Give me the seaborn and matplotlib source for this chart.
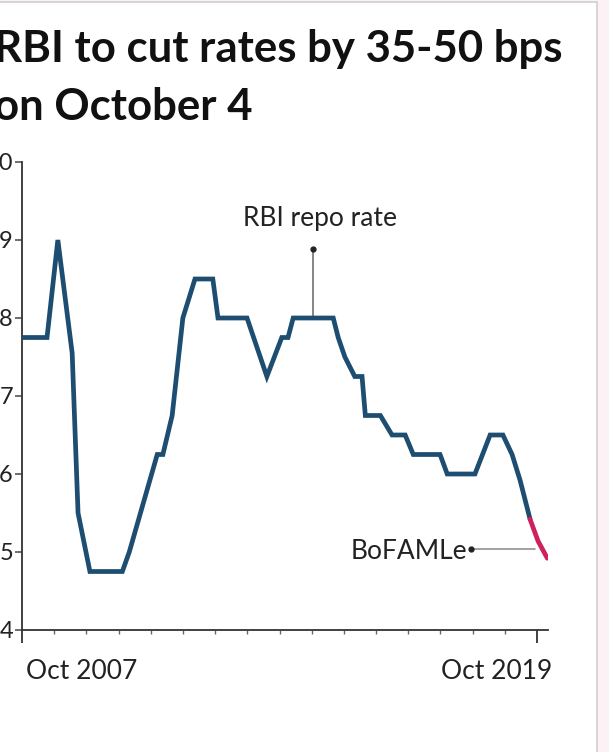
import matplotlib
matplotlib.use("Agg")
import matplotlib.pyplot as plt
import matplotlib.dates as mdates
import matplotlib.transforms as mtransforms
from matplotlib.patches import Rectangle
import pandas as pd
import seaborn as sns

# RBI policy repo rate (%), as plotted
repo_dates = [
    "2007-10-01", "2008-05-01", "2008-08-01", "2008-12-01", "2009-01-20",
    "2009-05-01", "2010-02-01", "2010-04-01", "2010-11-25", "2011-01-12",
    "2011-04-01", "2011-07-01", "2011-10-12", "2012-03-12", "2012-04-25",
    "2012-12-28", "2013-06-15", "2013-10-20", "2013-12-12", "2014-01-25",
    "2015-01-01", "2015-02-12", "2015-04-10", "2015-07-03", "2015-09-03",
    "2015-10-01", "2016-02-06", "2016-05-15", "2016-09-04", "2016-11-12",
    "2017-06-28", "2017-08-28", "2018-04-21", "2018-08-28", "2018-12-15",
    "2019-03-03", "2019-05-10", "2019-08-03",
]
repo_rate = [
    7.75, 7.75, 9.00, 7.55, 5.50,
    4.75, 4.75, 5.00, 6.25, 6.25,
    6.75, 8.00, 8.50, 8.50, 8.00,
    8.00, 7.25, 7.75, 7.75, 8.00,
    8.00, 7.75, 7.50, 7.25, 7.25,
    6.75, 6.75, 6.50, 6.50, 6.25,
    6.25, 6.00, 6.00, 6.50, 6.50,
    6.25, 5.92, 5.42,
]

# BofAML expected path
bofaml_dates = ["2019-08-03", "2019-10-10", "2019-12-28"]
bofaml_rate = [5.42, 5.14, 4.92]

title_lines = ["RBI to cut rates by 35-50 bps", "on October 4"]
xtick_labels = ["Oct 2007", "Oct 2019"]
ytick_values = [4, 5, 6, 7, 8, 9, 10]

repo = pd.DataFrame({"date": pd.to_datetime(repo_dates), "rate": repo_rate})
bofaml = pd.DataFrame({"date": pd.to_datetime(bofaml_dates), "rate": bofaml_rate})

sns.set_theme(style="ticks")
plt.rcParams["font.family"] = ["Lato", "DejaVu Sans"]

W, H = 609, 752
fig = plt.figure(figsize=(W / 100, H / 100), dpi=100, facecolor="#fcf1f4")

# card background with a thin border
card = Rectangle((-20 / W, -20 / H), (597 + 20) / W, (750 + 20) / H,
                 transform=fig.transFigure, facecolor="white",
                 edgecolor="#cfcfcf", linewidth=1.2, zorder=-5)
fig.patches.append(card)

ax_left, ax_right, ax_top, ax_bottom = 22, 548, 162, 630
ax = fig.add_axes([ax_left / W, 1 - ax_bottom / H,
                   (ax_right - ax_left) / W, (ax_bottom - ax_top) / H])
ax.set_facecolor("none")

blue = "#1d4d70"
pink = "#d0215f"
sns.lineplot(data=repo, x="date", y="rate", ax=ax, color=blue, linewidth=3.4,
             solid_joinstyle="miter", zorder=3)
sns.lineplot(data=bofaml, x="date", y="rate", ax=ax, color=pink, linewidth=3.4,
             zorder=4)

start = pd.Timestamp("2007-10-01")
end = pd.Timestamp("2019-10-01")
px_per_year = (537 - ax_left) / ((end - start).days / 365.25)
xmax = start + pd.Timedelta(days=(ax_right - ax_left) / px_per_year * 365.25)
ax.set_xlim(mdates.date2num(start), mdates.date2num(xmax))
ax.set_ylim(4, 10)

ax.set_xlabel("")
ax.set_ylabel("")
ax.set_yticks(ytick_values)
ax.set_yticklabels([str(v) for v in ytick_values])

major = [start, end]
ax.set_xticks([mdates.date2num(d) for d in major])
ax.set_xticklabels(xtick_labels)
minor = pd.date_range("2008-07-01", "2019-01-01", freq="9MS")
ax.set_xticks([mdates.date2num(d) for d in minor], minor=True)

for side in ["top", "right"]:
    ax.spines[side].set_visible(False)
for side in ["left", "bottom"]:
    ax.spines[side].set_color("#333333")
    ax.spines[side].set_linewidth(1.3)

ax.tick_params(axis="y", length=5, width=1.2, color="#555555", pad=1.5,
               labelsize=17, labelcolor="#222222")
ax.tick_params(axis="x", which="major", length=9, width=1.3, color="#333333",
               pad=12, labelsize=19, labelcolor="#222222")
ax.tick_params(axis="x", which="minor", length=3, width=1.0, color="#666666")

xl = ax.get_xticklabels()
xl[0].set_ha("left")
xl[0].set_transform(xl[0].get_transform() +
                    mtransforms.ScaledTranslation(4 / 100, 0, fig.dpi_scale_trans))
xl[1].set_ha("right")
xl[1].set_transform(xl[1].get_transform() +
                    mtransforms.ScaledTranslation(15 / 100, 0, fig.dpi_scale_trans))

# annotations
lbl_x = mdates.date2num(pd.Timestamp("2014-07-15"))
ax.plot([lbl_x, lbl_x], [8.0, 8.88], color="#666666", lw=1.1, zorder=2)
ax.plot([lbl_x], [8.88], marker="o", ms=3.5, color="#222222", zorder=2)
ax.annotate("RBI repo rate", (lbl_x, 9.18), xytext=(7, 0),
            textcoords="offset pixels", ha="center", va="baseline",
            fontsize=19, color="#222222")

b_x0 = mdates.date2num(pd.Timestamp("2018-03-20"))
b_x1 = mdates.date2num(pd.Timestamp("2019-09-15"))
ax.plot([b_x0, b_x1], [5.04, 5.04], color="#888888", lw=1.1, zorder=2)
ax.plot([b_x0], [5.04], marker="o", ms=3.5, color="#222222", zorder=2)
ax.annotate("BoFAMLe", (b_x0, 5.04), xytext=(-4, -10),
            textcoords="offset pixels", ha="right", va="baseline",
            fontsize=19, color="#222222")

fig.text(-6 / W, 1 - 62 / H, title_lines[0], fontsize=31.5, fontweight="bold",
         color="#111111", ha="left", va="baseline")
fig.text(-6 / W, 1 - 120 / H, title_lines[1], fontsize=31.5, fontweight="bold",
         color="#111111", ha="left", va="baseline")

fig.savefig("out.png", dpi=100, facecolor=fig.get_facecolor())
